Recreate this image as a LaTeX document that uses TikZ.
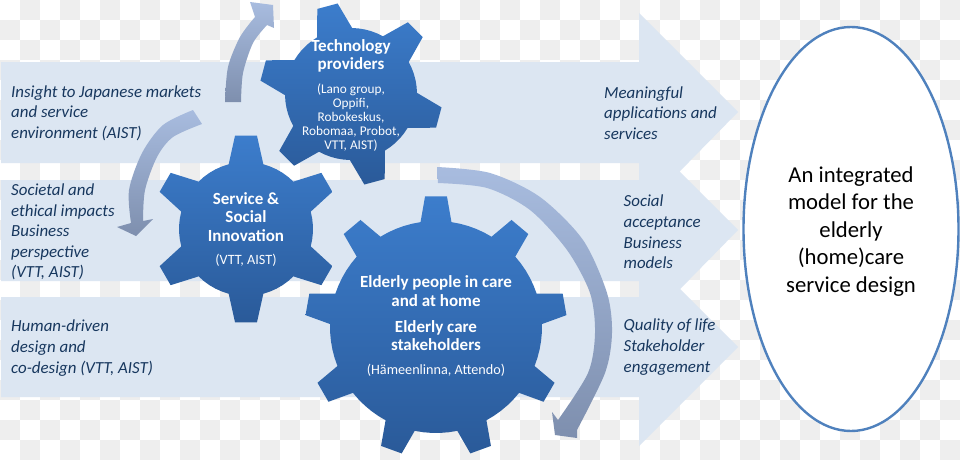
\documentclass[tikz,border=0pt]{standalone}
\usepackage{fontspec}
\setmainfont{Carlito}
\definecolor{paleband}{HTML}{DCE6F2}
\definecolor{checkgrey}{HTML}{EEEEEE}
\definecolor{navytext}{HTML}{17375E}
\definecolor{gearlight}{HTML}{3C7DCC}
\definecolor{geardark}{HTML}{2A5A99}
\definecolor{ringblue}{HTML}{4F81BD}
\definecolor{sweeplight}{HTML}{A8BCDF}
\definecolor{sweepdark}{HTML}{7E8FAE}
\tikzset{
  band/.style={fill=paleband,draw=none},
  gearbody/.style={top color=gearlight,bottom color=geardark,draw=none},
  sweep/.style={top color=sweeplight,bottom color=sweepdark,draw=none},
  sidetext/.style={inner sep=0pt,anchor=west,align=left,text=navytext,
    font=\fontsize{16.9}{20.6}\selectfont\itshape},
  geartitle/.style={inner sep=0pt,align=center,text=white,
    font=\fontsize{17}{18.6}\selectfont\bfseries},
  gearnote/.style={inner sep=0pt,align=center,text=white!90!paleband,
    font=\fontsize{14.2}{14}\selectfont},
  gearnotesmall/.style={gearnote,font=\fontsize{13.3}{14}\selectfont},
  goaltext/.style={inner sep=0pt,align=center,text=black,
    font=\fontsize{22.7}{27.5}\selectfont},
}
% Cog outline: centre, root radius, tip radius, tooth count, first tooth angle,
% half angle of a tooth at its root, half angle at its tip
\newcommand{\cogwheel}[8]{%
  \begin{scope}[shift={(#1,#2)}]
    \path[gearbody] ({-(#6+#7)}:#3)
      \foreach \k in {0,...,\numexpr#5-1\relax} {
        -- ({-(#6-\k*360/#5+#7)}:#3)
        -- ({-(#6-\k*360/#5+#8)}:#4)
        -- ({-(#6-\k*360/#5-#8)}:#4)
        -- ({-(#6-\k*360/#5-#7)}:#3)
        -- ({-(#6-\k*360/#5-#7-(360/#5-2*#7)*0.2)}:#3)
        -- ({-(#6-\k*360/#5-#7-(360/#5-2*#7)*0.4)}:#3)
        -- ({-(#6-\k*360/#5-#7-(360/#5-2*#7)*0.6)}:#3)
        -- ({-(#6-\k*360/#5-#7-(360/#5-2*#7)*0.8)}:#3)
      } -- cycle;
  \end{scope}}
\begin{document}
\begin{tikzpicture}[x=1pt,y=-1pt]
\useasboundingbox (0,0) rectangle (960,460);
% tile backdrop
\fill[white] (0,0) rectangle (960,460);
\foreach \i in {0,...,47} \foreach \j in {0,...,22} {
  \pgfmathtruncatemacro{\odd}{mod(\i+\j,2)}
  \ifnum\odd=1 \fill[checkgrey] (\i*20,\j*20) rectangle (\i*20+20,\j*20+20); \fi
}
% three wide arrows
\path[band] (1,62) -- (639,62) -- (639,13) -- (738,112) -- (639,213) -- (639,163) -- (1,163) -- cycle;
\path[band] (1,180) -- (639,180) -- (639,131) -- (738,230) -- (639,331) -- (639,281) -- (1,281) -- cycle;
\path[band] (1,297) -- (639,297) -- (639,248) -- (738,347) -- (639,446) -- (639,397) -- (1,397) -- cycle;
% goal ellipse
\path[draw=ringblue,line width=2.4pt,fill=white] (851,229) ellipse [x radius=107.5,y radius=202];
% curved arrows
\path[sweep] plot[smooth] coordinates {(225,102) (228,67) (240,37) (255,17)}
  -- (250,2) -- (273,5) -- (274,28) -- (267,25)
  -- plot[smooth] coordinates {(267,25) (253,43) (243,73) (241,102)} -- cycle;
\path[sweep] plot[smooth] coordinates {(193,110) (163,125) (142,153) (129,190) (131,223)}
  -- (117,227) -- (136,236) -- (153,219) -- (143,221)
  -- plot[smooth] coordinates {(143,221) (145,190) (157,157) (173,137) (202,124)} -- cycle;
\path[sweep] plot[smooth] coordinates {(437,167) (490,173) (540,197) (583,240) (607,293) (612,333) (605,373) (577,430)}
  -- (577,438) -- (555,435) -- (552,412) -- (558,420)
  -- plot[smooth] coordinates {(558,420) (588,373) (595,333) (590,293) (567,250) (530,210) (487,188) (438,183)} -- cycle;
% cogs
\cogwheel{351}{94}{66}{91.5}{6}{105}{16}{6.6}
\cogwheel{246}{229}{67}{94}{6}{90}{15}{6.7}
\cogwheel{436}{327}{106}{131}{9}{90}{8.4}{4.8}
% cog labels
\node[geartitle] (techtitle) at (351,56) {Technology\\providers};
\node[gearnotesmall] (technote) at (351,118) {(Lano group,\\Oppifi,\\Robokeskus,\\Robomaa, Probot,\\VTT, AIST)};
\node[geartitle] (servtitle) at (246,217) {Service \&\\Social\\Innovation};
\node[gearnote] (servnote) at (246,260) {(VTT, AIST)};
\node[geartitle] (eldtitle) at (436,291) {Elderly people in care\\and at home};
\node[geartitle] (caretitle) at (436,335.5) {Elderly care\\stakeholders};
\node[gearnote] (carenote) at (436,370) {(Hämeenlinna, Attendo)};
% left column
\node[sidetext] (insight) at (11,113) {Insight to Japanese markets\\and service\\environment (AIST)};
\node[sidetext] (societal) at (11,232) {Societal and\\ethical impacts\\Business\\perspective\\(VTT, AIST)};
\node[sidetext] (human) at (11,348) {Human-driven\\design and\\co-design (VTT, AIST)};
% right column
\node[sidetext] (meaning) at (604,113) {Meaningful\\applications and\\services};
\node[sidetext] (social) at (623.5,232) {Social\\acceptance\\Business\\models};
\node[sidetext] (quality) at (623.5,347) {Quality of life\\Stakeholder\\engagement};
% goal text
\node[goaltext] (goal) at (851,231.5) {An integrated\\model for the\\elderly\\(home)care\\service design};
\end{tikzpicture}
\end{document}
